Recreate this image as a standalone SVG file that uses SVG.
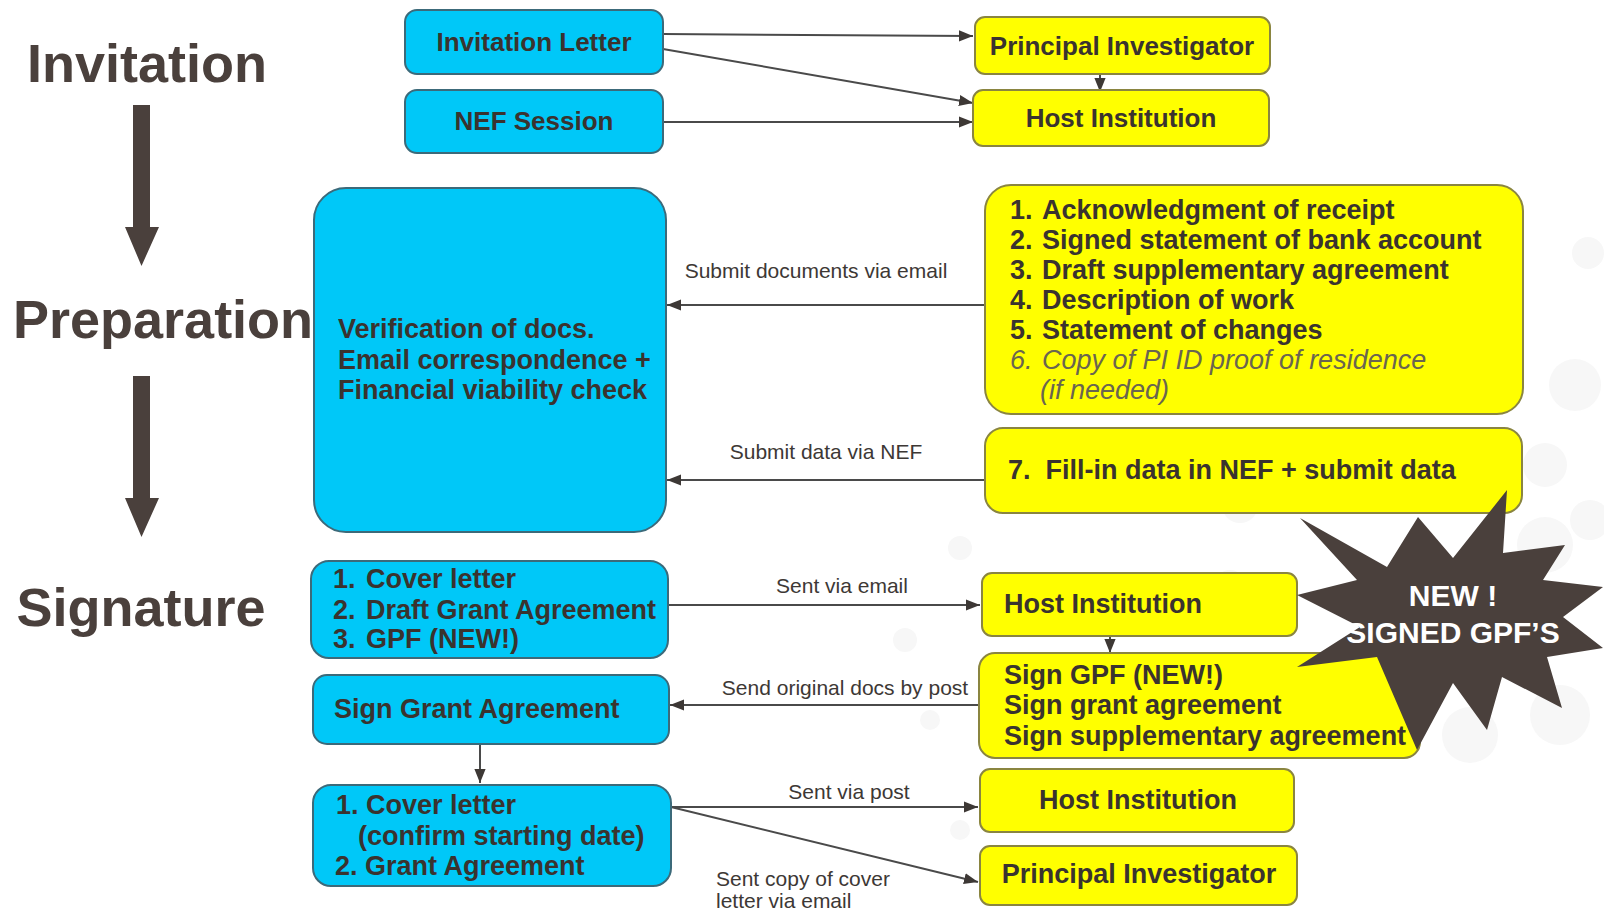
<svg xmlns="http://www.w3.org/2000/svg" width="1604" height="912" viewBox="0 0 1604 912">
<defs>
<marker id="ah2" viewBox="0 0 10 10" refX="10" refY="5" markerWidth="14" markerHeight="14" markerUnits="userSpaceOnUse" orient="auto">
<path d="M0,1 L10,5 L0,9 z" fill="#3d3835"/>
</marker>
<style>
.title{font-family:"Liberation Sans",Arial,sans-serif;font-weight:bold;font-size:54px;fill:#4a403c}
.bt{font-family:"Liberation Sans",Arial,sans-serif;font-weight:bold;font-size:26px;fill:#3a332f}
.lt{font-family:"Liberation Sans",Arial,sans-serif;font-weight:bold;font-size:27px;fill:#3a332f}
.it{font-family:"Liberation Sans",Arial,sans-serif;font-style:italic;font-size:27px;fill:#6a6550}
.lab{font-family:"Liberation Sans",Arial,sans-serif;font-size:21px;fill:#3d3835}
.cy{fill:#00c8f8;stroke:#3c6a7a;stroke-width:2}
.ye{fill:#ffff00;stroke:#8a8540;stroke-width:2}
.con{stroke:#4a4a4a;stroke-width:2;fill:none;marker-end:url(#ah2)}
.bg{fill:#f7f7f7}
.star{fill:#4a403c}
.st{font-family:"Liberation Sans",Arial,sans-serif;font-weight:bold;font-size:30px;fill:#ffffff}
</style>
</defs>
<rect x="0" y="0" width="1604" height="912" fill="#ffffff"/>
<g id="background">
<circle class="bg" cx="1588" cy="253" r="16"/>
<circle class="bg" cx="1575" cy="385" r="26"/>
<circle class="bg" cx="1545" cy="465" r="22"/>
<circle class="bg" cx="1590" cy="520" r="20"/>
<circle class="bg" cx="1545" cy="545" r="28"/>
<circle class="bg" cx="1240" cy="505" r="18"/>
<circle class="bg" cx="1230" cy="585" r="15"/>
<circle class="bg" cx="960" cy="548" r="12"/>
<circle class="bg" cx="905" cy="640" r="12"/>
<circle class="bg" cx="930" cy="720" r="10"/>
<circle class="bg" cx="1560" cy="715" r="30"/>
<circle class="bg" cx="1470" cy="735" r="28"/>
<circle class="bg" cx="960" cy="830" r="10"/>
</g>
<g id="titles">
<text class="title" x="147" y="82" text-anchor="middle">Invitation</text>
<text class="title" x="13" y="338">Preparation</text>
<text class="title" x="141" y="626" text-anchor="middle">Signature</text>
<path d="M133,105 H150 V227 H159 L141.5,266 L125,227 H133 Z" fill="#4a403c"/>
<path d="M133,376 H150 V498 H159 L141.5,537 L125,498 H133 Z" fill="#4a403c"/>
</g>
<g id="connectors">
<line class="con" x1="663" y1="34" x2="973" y2="36"/>
<line class="con" x1="663" y1="49" x2="973" y2="103"/>
<line class="con" x1="663" y1="122" x2="973" y2="122"/>
<line class="con" x1="1100" y1="74" x2="1100" y2="92"/>
<line class="con" x1="985" y1="305" x2="667" y2="305"/>
<line class="con" x1="985" y1="480" x2="667" y2="480"/>
<line class="con" x1="668" y1="605" x2="980" y2="605"/>
<line class="con" x1="1110" y1="636" x2="1110" y2="653"/>
<line class="con" x1="979" y1="705" x2="670" y2="705"/>
<line class="con" x1="480" y1="744" x2="480" y2="783"/>
<line class="con" x1="671" y1="807" x2="978" y2="807"/>
<line class="con" x1="671" y1="807" x2="978" y2="882"/>
<text class="lab" x="816" y="278" text-anchor="middle">Submit documents via email</text>
<text class="lab" x="826" y="459" text-anchor="middle">Submit data via NEF</text>
<text class="lab" x="842" y="593" text-anchor="middle">Sent via email</text>
<text class="lab" x="845" y="695" text-anchor="middle">Send original docs by post</text>
<text class="lab" x="849" y="799" text-anchor="middle">Sent via post</text>
<text class="lab" x="716" y="886">Sent copy of cover</text>
<text class="lab" x="716" y="908">letter via email</text>
</g>
<g id="invitation-letter">
<rect class="cy" x="405" y="10" width="258" height="64" rx="12"/>
<text class="bt" x="534" y="51" text-anchor="middle">Invitation Letter</text>
</g>
<g id="nef-session">
<rect class="cy" x="405" y="90" width="258" height="63" rx="12"/>
<text class="bt" x="534" y="130" text-anchor="middle">NEF Session</text>
</g>
<g id="pi-top">
<rect class="ye" x="975" y="17" width="295" height="57" rx="10"/>
<text class="bt" x="1122" y="55" text-anchor="middle">Principal Investigator</text>
</g>
<g id="host-top">
<rect class="ye" x="973" y="90" width="296" height="56" rx="10"/>
<text class="bt" x="1121" y="127" text-anchor="middle">Host Institution</text>
</g>
<g id="verification">
<rect class="cy" x="314" y="188" width="352" height="344" rx="32"/>
<text class="lt" x="338" y="338">Verification of docs.</text>
<text class="lt" x="338" y="369">Email correspondence +</text>
<text class="lt" x="338" y="399">Financial viability check</text>
</g>
<g id="documents-list">
<rect class="ye" x="985" y="185" width="538" height="229" rx="26"/>
<text class="lt" x="1010" y="219">1.</text><text class="lt" x="1042" y="219">Acknowledgment of receipt</text>
<text class="lt" x="1010" y="249">2.</text><text class="lt" x="1042" y="249">Signed statement of bank account</text>
<text class="lt" x="1010" y="279">3.</text><text class="lt" x="1042" y="279">Draft supplementary agreement</text>
<text class="lt" x="1010" y="309">4.</text><text class="lt" x="1042" y="309">Description of work</text>
<text class="lt" x="1010" y="339">5.</text><text class="lt" x="1042" y="339">Statement of changes</text>
<text class="it" x="1010" y="369">6.</text><text class="it" x="1042" y="369">Copy of PI ID proof of residence</text>
<text class="it" x="1040" y="399">(if needed)</text>
</g>
<g id="fill-in">
<rect class="ye" x="985" y="428" width="537" height="85" rx="18"/>
<text class="lt" x="1008" y="479" xml:space="preserve">7.  Fill-in data in NEF + submit data</text>
</g>
<g id="cover-letter-1">
<rect class="cy" x="311" y="561" width="357" height="97" rx="18"/>
<text class="lt" x="333" y="588">1.</text><text class="lt" x="366" y="588">Cover letter</text>
<text class="lt" x="333" y="619">2.</text><text class="lt" x="366" y="619">Draft Grant Agreement</text>
<text class="lt" x="333" y="648">3.</text><text class="lt" x="366" y="648">GPF (NEW!)</text>
</g>
<g id="host-mid">
<rect class="ye" x="982" y="573" width="315" height="63" rx="10"/>
<text class="lt" x="1004" y="613">Host Institution</text>
</g>
<g id="sign-gpf">
<rect class="ye" x="979" y="653" width="441" height="105" rx="16"/>
<text class="lt" x="1004" y="684">Sign GPF (NEW!)</text>
<text class="lt" x="1004" y="714">Sign grant agreement</text>
<text class="lt" x="1004" y="745">Sign supplementary agreement</text>
</g>
<g id="sign-grant">
<rect class="cy" x="313" y="675" width="356" height="69" rx="14"/>
<text class="lt" x="334" y="718">Sign Grant Agreement</text>
</g>
<g id="cover-letter-2">
<rect class="cy" x="313" y="785" width="358" height="101" rx="18"/>
<text class="lt" x="336" y="814">1. Cover letter</text>
<text class="lt" x="358" y="845">(confirm starting date)</text>
<text class="lt" x="335" y="875">2. Grant Agreement</text>
</g>
<g id="host-bottom">
<rect class="ye" x="980" y="769" width="314" height="63" rx="10"/>
<text class="lt" x="1138" y="809" text-anchor="middle">Host Institution</text>
</g>
<g id="pi-bottom">
<rect class="ye" x="980" y="846" width="317" height="59" rx="10"/>
<text class="lt" x="1139" y="883" text-anchor="middle">Principal Investigator</text>
</g>
<g id="new-star">
<polygon class="star" points="1300,518 1387,567 1418,517 1453,558 1507,490 1503,553 1565,545 1543,580 1603,587 1563,617 1603,648 1547,657 1562,708 1502,677 1487,730 1453,683 1417,750 1377,657 1297,667 1360,627 1297,595 1357,580"/>
<text class="st" x="1453" y="606" text-anchor="middle">NEW !</text>
<text class="st" x="1453" y="643" text-anchor="middle">SIGNED GPF’S</text>
</g>
</svg>
